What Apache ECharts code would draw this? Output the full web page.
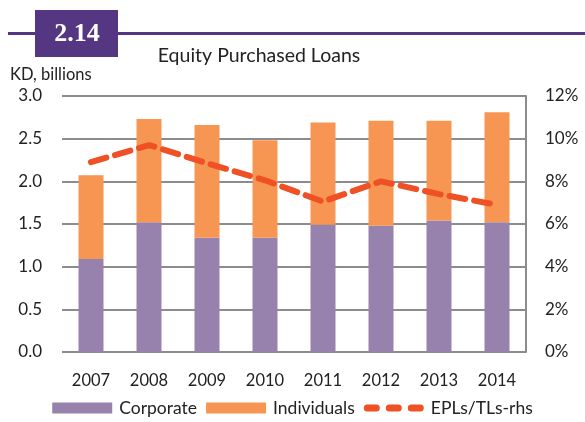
<!DOCTYPE html>
<html>
<head>
<meta charset="utf-8">
<script src="https://cdn.jsdelivr.net/npm/echarts@6/dist/echarts.min.js"></script>
<style>
html, body { margin: 0; padding: 0; background: #fff; }
#chart { width: 585px; height: 422px; }
</style>
</head>
<body>
<div id="chart"></div>
<script>
// categories and values
var years = ['2007', '2008', '2009', '2010', '2011', '2012', '2013', '2014'];
var corporate = [1.09, 1.52, 1.34, 1.34, 1.49, 1.48, 1.54, 1.52];
var individuals = [0.98, 1.21, 1.32, 1.14, 1.20, 1.23, 1.17, 1.29];
var eplRatio = [8.9, 9.7, 8.85, 8.05, 7.05, 8.0, 7.4, 6.9];

var leftTicks = ['0.0', '0.5', '1.0', '1.5', '2.0', '2.5', '3.0'];

var FONT = 'Lato';
// three rounded dashes for the legend, padded to the 60x11 legend box
var dashIcon = 'path://M0,0h0.1v0.1h-0.1z M59.9,10.9h0.1v0.1h-0.1z ' +
    'M3.5,2h9a3.5,3.5 0 0 1 0,7h-9a3.5,3.5 0 0 1 0,-7z ' +
    'M25.5,2h9a3.5,3.5 0 0 1 0,7h-9a3.5,3.5 0 0 1 0,-7z ' +
    'M47.5,2h9a3.5,3.5 0 0 1 0,7h-9a3.5,3.5 0 0 1 0,-7z';

var chart = echarts.init(document.getElementById('chart'));

var option = {
    animation: false,
    backgroundColor: '#fff',
    textStyle: { fontFamily: FONT },
    graphic: [
        // header band
        { type: 'rect', shape: { x: 8, y: 32, width: 577, height: 3 }, style: { fill: '#553682' } },
        { type: 'rect', shape: { x: 35, y: 10, width: 83, height: 47 }, style: { fill: '#553682' } },
        { type: 'text', x: 77, y: 34, style: { text: '2.14', fill: '#fff', font: 'bold 26px "Liberation Serif"', align: 'center', verticalAlign: 'middle' } },
        { type: 'text', x: 259, y: 56, style: { text: 'Equity Purchased Loans', fill: '#222', font: '19.5px ' + FONT, align: 'center', verticalAlign: 'middle' } },
        { type: 'text', x: 10, y: 75, style: { text: 'KD, billions', fill: '#222', font: '16.5px ' + FONT, align: 'left', verticalAlign: 'middle' } }
    ],
    legend: {
        top: 397,
        left: 'center',
        padding: 2,
        itemWidth: 60,
        itemHeight: 11,
        itemGap: 9,
        textStyle: { fontSize: 17.5, color: '#222', fontFamily: FONT, padding: [0, 0, 0, 2] },
        data: [
            { name: 'Corporate', icon: 'rect' },
            { name: 'Individuals', icon: 'rect' },
            { name: 'EPLs/TLs-rhs', icon: dashIcon, itemStyle: { color: '#ef5024' } }
        ]
    },
    grid: { left: 62, right: 59, top: 96, bottom: 70 },
    xAxis: {
        type: 'category',
        data: years,
        axisLine: { show: false },
        axisTick: { show: false },
        axisLabel: { fontSize: 16.5, color: '#222', margin: 20, fontFamily: FONT }
    },
    yAxis: [
        {
            type: 'value',
            min: 0, max: 3, interval: 0.5,
            axisLine: { show: false },
            axisTick: { show: false },
            axisLabel: {
                fontSize: 17, color: '#222', margin: 20, fontFamily: FONT,
                formatter: function (v) { return leftTicks[Math.round(v / 0.5)]; }
            },
            splitLine: { lineStyle: { color: '#8c8c8c', width: 2 } }
        },
        {
            type: 'value',
            min: 0, max: 12, interval: 2,
            axisLine: { show: true, lineStyle: { color: '#8c8c8c', width: 2 } },
            axisTick: { show: true, inside: true, length: 4, lineStyle: { color: '#8c8c8c' } },
            axisLabel: { fontSize: 17, color: '#222', margin: 19, fontFamily: FONT, formatter: '{value}%' },
            splitLine: { show: false }
        }
    ],
    series: [
        {
            name: 'Corporate', type: 'bar', stack: 'total', barWidth: 25,
            itemStyle: { color: '#9781ad' },
            data: corporate
        },
        {
            name: 'Individuals', type: 'bar', stack: 'total', barWidth: 25,
            itemStyle: { color: '#f79552' },
            data: individuals
        },
        {
            name: 'EPLs/TLs-rhs', type: 'line', yAxisIndex: 1,
            symbol: 'none',
            itemStyle: { color: '#ef5024' },
            lineStyle: { color: '#ef5024', width: 6, type: [16, 9], cap: 'round' },
            data: eplRatio
        }
    ]
};

chart.setOption(option);
</script>
</body>
</html>
